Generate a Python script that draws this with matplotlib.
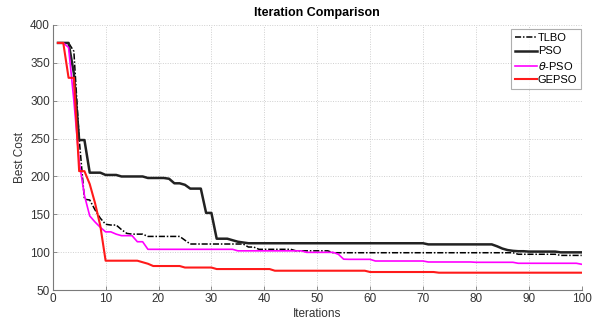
import matplotlib
matplotlib.use("Agg")
import matplotlib.pyplot as plt
import numpy as np

plt.rcParams['font.family'] = ['Liberation Sans', 'DejaVu Sans']

iterations = list(range(1, 101))

tlbo = ([376, 376, 376, 365, 250, 170, 169, 156, 145, 137,
         136, 136, 130, 125, 124, 124, 124, 121, 121, 121,
         121, 121, 121, 121, 116, 111, 111, 111, 111, 111,
         111, 111, 111, 111, 111, 111, 107, 107, 104, 104,
         104, 104, 104, 104, 104, 102, 102, 102, 102, 102,
         102, 102] + [99.5] * 35 + [97.5] * 8 + [96] * 5)

pso = ([376, 376, 376, 336, 248, 248, 205, 205, 205, 202,
        202, 202, 200, 200, 200, 200, 200, 198, 198, 198,
        198, 197, 191, 191, 189, 184, 184, 184, 152, 152,
        118, 118, 118, 116, 114, 113, 112, 112, 112, 112]
       + [112] * 30 + [110.5] * 13
       + [108, 105, 103, 102, 101.5, 101.5, 101, 101, 101, 101, 101, 101,
          100, 100, 100, 100, 100])

theta_pso = ([376, 376, 370, 300, 220, 175, 148, 140, 133, 127,
              127, 124, 122, 122, 122, 114, 114] + [104] * 17
             + [102] * 13 + [100] * 6 + [97.5, 91] + [90.8] * 5
             + [88.6] * 10 + [87.3] * 9 + [86.9] * 8 + [85.6] * 12 + [84.3])

gepso = ([376, 376, 330, 330, 207, 207, 190, 165, 135, 89,
          89, 89, 89, 89, 89, 89, 87, 85] + [82] * 6 + [80] * 6
         + [78] * 11 + [75.8] * 18 + [74.1] * 13 + [73.2] * 28)

series = [
    ("TLBO", tlbo, dict(color="black", lw=1.1, ls=(0, (4, 1.2, 1, 1.2)))),
    ("PSO", pso, dict(color="#222222", lw=1.8, ls="-")),
    (r"$\theta$-PSO", theta_pso, dict(color="#ff00ff", lw=1.2, ls="-")),
    ("GEPSO", gepso, dict(color="#ff1a1a", lw=1.5, ls="-")),
]

fig = plt.figure(figsize=(5.92, 3.26), dpi=100)
ax = fig.add_axes([52.7 / 592, 1 - 290.3 / 326, (581.7 - 52.7) / 592, (290.3 - 24.7) / 326])

gridc = "#d0d0d0"
for xv in range(10, 100, 10):
    ax.axvline(xv, color=gridc, lw=0.7, ls=(0, (1, 1.5)), zorder=0)
for yv in range(100, 401, 50):
    ax.axhline(yv, color=gridc, lw=0.7, ls=(0, (1, 1.5)), zorder=0, clip_on=False)

for name, vals, st in series:
    ax.plot(iterations, vals, label=name, **st)

ax.set_xlim(0, 100)
ax.set_ylim(50, 400)
ax.set_xticks(range(0, 101, 10))
ax.set_yticks(range(50, 401, 50))
for s in ("top", "right"):
    ax.spines[s].set_visible(False)
for s in ("left", "bottom"):
    ax.spines[s].set_color("#7a7a7a")
    ax.spines[s].set_linewidth(0.8)
ax.tick_params(direction="in", length=3, width=0.6, colors="#7a7a7a",
               labelcolor="#333333", labelsize=8.5, pad=2)

ax.set_title("Iteration Comparison", fontsize=9, fontweight="bold", pad=6)
ax.set_xlabel("Iterations", fontsize=8.5, color="#333333", labelpad=2)
ax.set_ylabel("Best Cost", fontsize=8.5, color="#333333", labelpad=3)

leg = ax.legend(loc="upper right", bbox_to_anchor=(0.999, 0.983), fontsize=8,
                frameon=True, fancybox=False, handlelength=2.0,
                handletextpad=0.1, borderpad=0.35, labelspacing=0.3,
                borderaxespad=0.0)
leg.get_frame().set_edgecolor("#9a9a9a")
leg.get_frame().set_linewidth(0.8)

fig.savefig("out.png", dpi=100)
